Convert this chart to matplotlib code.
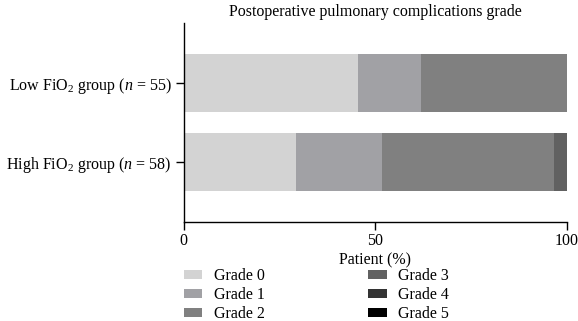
import numpy as np
import matplotlib
matplotlib.use('Agg')
import matplotlib.pyplot as plt

plt.rcParams['font.family'] = 'Liberation Serif'
plt.rcParams['mathtext.fontset'] = 'custom'
plt.rcParams['mathtext.rm'] = 'Liberation Serif'
plt.rcParams['mathtext.it'] = 'Liberation Serif:italic'

# Data (percent of patients per grade)
groups = ['Low FiO$_2$ group ($n$ = 55)', 'High FiO$_2$ group ($n$ = 58)']
grades = ['Grade 0', 'Grade 1', 'Grade 2', 'Grade 3', 'Grade 4', 'Grade 5']
low_pct = [45.5, 16.4, 38.1, 0, 0, 0]
high_pct = [29.3, 22.4, 44.8, 3.5, 0, 0]
colors = ['#d3d3d3', '#a1a1a5', '#808080', '#616161', '#333333', '#000000']

values = np.array([low_pct, high_pct])
ypos = [1, 0]
fs = 11.5

fig = plt.figure(figsize=(5.78, 3.21), dpi=100)
ax = fig.add_axes([0.318, 0.308, 0.663, 0.620])

left = np.zeros(len(groups))
for i, grade in enumerate(grades):
    ax.barh(ypos, values[:, i], left=left, height=0.73, color=colors[i],
            label=grade, edgecolor='none')
    left += values[:, i]

ax.set_xlim(0, 100)
ax.set_ylim(-0.75, 1.75)
ax.set_xticks([0, 50, 100])
ax.set_yticks(ypos)
ax.set_yticklabels(groups, fontsize=fs)
ax.tick_params(axis='x', labelsize=fs, length=6, width=1, pad=2)
ax.tick_params(axis='y', length=6, width=1, pad=3)
for s in ['top', 'right']:
    ax.spines[s].set_visible(False)
ax.spines['left'].set_linewidth(1)
ax.spines['bottom'].set_linewidth(1)

ax.set_title('Postoperative pulmonary complications grade', fontsize=fs, pad=5)
ax.set_xlabel('Patient (%)', fontsize=fs, labelpad=2)

ax.legend(loc='upper left', bbox_to_anchor=(184 / 578, 1 - 268 / 321),
          bbox_transform=fig.transFigure, ncol=2, frameon=False,
          fontsize=fs, handlelength=1.15, handleheight=0.45, labelspacing=0.2,
          columnspacing=6.5, handletextpad=0.7, borderaxespad=0, borderpad=0)

fig.savefig('out.png', dpi=100)
